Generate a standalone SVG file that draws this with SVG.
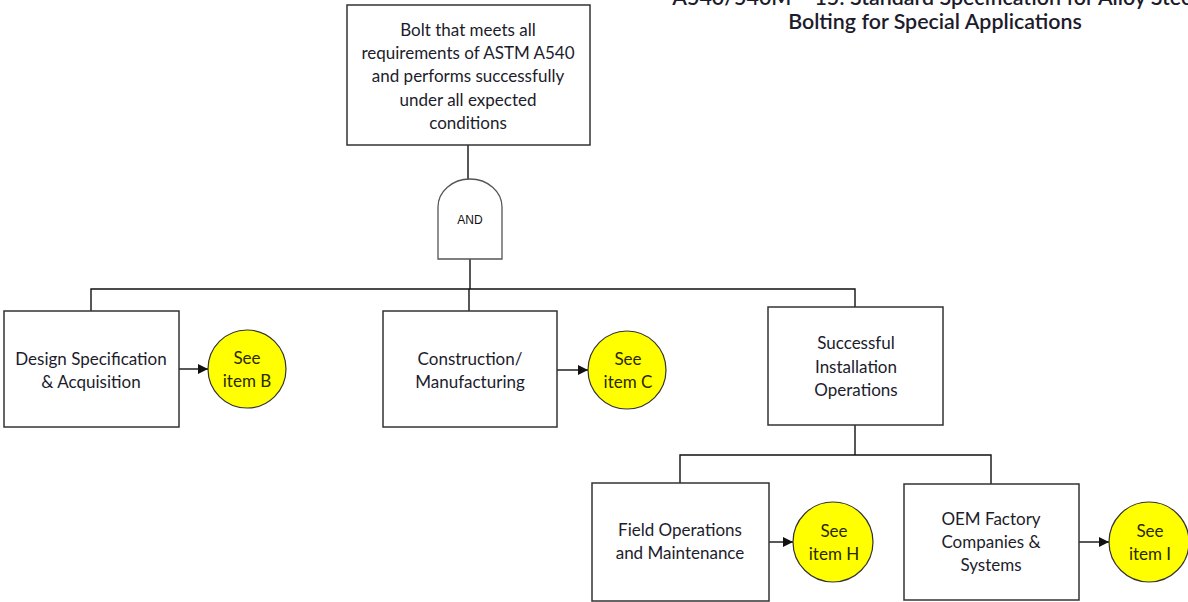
<svg xmlns="http://www.w3.org/2000/svg" width="1188" height="602" viewBox="0 0 1188 602">
<style>
.box{fill:#fff;stroke:#333;stroke-width:1.5}
.circ{fill:#ffff00;stroke:#333;stroke-width:1.2}
.t{font-family:Lato,"Open Sans","Liberation Sans",sans-serif;font-size:17px;fill:#1c1c2c;text-anchor:middle}
.ct{font-family:Lato,"Open Sans","Liberation Sans",sans-serif;font-size:17px;fill:#2a2a00;text-anchor:middle}
.title{font-family:Lato,"Open Sans","Liberation Sans",sans-serif;font-size:21.4px;font-weight:600;fill:#1c1c2c;text-anchor:middle}
.ln{fill:none;stroke:#111;stroke-width:1.4}
.gate{fill:#fff;stroke:#555;stroke-width:1.3}
.gt{font-family:"Liberation Sans",Arial,sans-serif;font-size:12px;fill:#111;text-anchor:middle}
</style>
<defs>
<marker id="ah" viewBox="0 0 10 10" refX="10" refY="5" markerWidth="10" markerHeight="10" markerUnits="userSpaceOnUse" orient="auto">
<path d="M0,0 L10,5 L0,10 Z" fill="#111"/>
</marker>
</defs>
<rect width="1188" height="602" fill="#fff"/>
<g id="title">
<text class="title" x="935" y="5">A540/540M – 15: Standard Specification for Alloy Steel</text>
<text class="title" x="935" y="29">Bolting for Special Applications</text>
</g>
<g id="connectors">
<path class="ln" d="M468,145 V180"/>
<path class="ln" d="M470,259 V289"/>
<path class="ln" d="M91,311 V289 H855 V307"/>
<path class="ln" d="M469,289 V311"/>
<path class="ln" d="M855,425 V455"/>
<path class="ln" d="M680,483 V455 H991 V484"/>
<path class="ln" d="M179,369 H208" marker-end="url(#ah)"/>
<path class="ln" d="M557,370 H588" marker-end="url(#ah)"/>
<path class="ln" d="M769,542 H793" marker-end="url(#ah)"/>
<path class="ln" d="M1079,542 H1109" marker-end="url(#ah)"/>
</g>
<g id="top">
<rect class="box" x="347" y="5" width="243" height="140"/>
<text class="t" x="468" y="36">Bolt that meets all</text>
<text class="t" x="468" y="59">requirements of ASTM A540</text>
<text class="t" x="468" y="82">and performs successfully</text>
<text class="t" x="468" y="106">under all expected</text>
<text class="t" x="468" y="129">conditions</text>
</g>
<g id="and-gate">
<path class="gate" d="M438,259 V207 A32,28 0 0 1 502,207 V259 Z"/>
<text class="gt" x="470" y="224">AND</text>
</g>
<g id="design">
<rect class="box" x="4" y="311" width="175" height="116"/>
<text class="t" x="91" y="365">Design Specification</text>
<text class="t" x="91" y="388">&amp; Acquisition</text>
</g>
<g id="see-b">
<circle class="circ" cx="247" cy="369" r="39"/>
<text class="ct" x="247" y="364">See</text>
<text class="ct" x="247" y="387">item B</text>
</g>
<g id="construction">
<rect class="box" x="383" y="311" width="174" height="116"/>
<text class="t" x="470" y="365">Construction/</text>
<text class="t" x="470" y="388">Manufacturing</text>
</g>
<g id="see-c">
<circle class="circ" cx="627" cy="370" r="39"/>
<text class="ct" x="628" y="365">See</text>
<text class="ct" x="628" y="388">item C</text>
</g>
<g id="installation">
<rect class="box" x="768" y="307" width="175" height="118"/>
<text class="t" x="856" y="349">Successful</text>
<text class="t" x="856" y="373">Installation</text>
<text class="t" x="856" y="396">Operations</text>
</g>
<g id="field">
<rect class="box" x="592" y="483" width="177" height="118"/>
<text class="t" x="680" y="536">Field Operations</text>
<text class="t" x="680" y="559">and Maintenance</text>
</g>
<g id="see-h">
<circle class="circ" cx="833" cy="542" r="40"/>
<text class="ct" x="834" y="537">See</text>
<text class="ct" x="834" y="560">item H</text>
</g>
<g id="oem">
<rect class="box" x="904" y="484" width="175" height="116"/>
<text class="t" x="991" y="525">OEM Factory</text>
<text class="t" x="991" y="548">Companies &amp;</text>
<text class="t" x="991" y="571">Systems</text>
</g>
<g id="see-i">
<circle class="circ" cx="1149" cy="542" r="40"/>
<text class="ct" x="1150" y="537">See</text>
<text class="ct" x="1150" y="560">item I</text>
</g>
</svg>
